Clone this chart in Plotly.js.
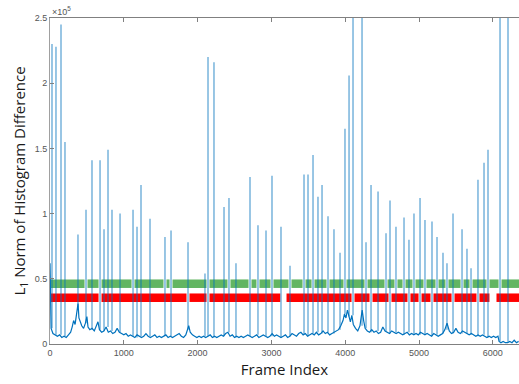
<!DOCTYPE html>
<html>
<head>
<meta charset="utf-8">
<script src="https://cdn.plot.ly/plotly-3.0.1.min.js"></script>
<style>
  html, body { margin: 0; padding: 0; background: #ffffff; }
  #chart { width: 519px; height: 384px; }
</style>
</head>
<body>
<div id="chart"></div>
<script>
// Background level of the L1 histogram difference between consecutive frames
const baseFrames = [0,15,40,70,100,130,160,190,220,250,280,300,320,340,355,370,380,392,410,430,455,480,500,515,540,570,600,630,650,670,700,730,760,790,820,850,880,910,940,970,1000,1030,1060,1090,1120,1150,1180,1210,1240,1270,1300,1330,1360,1390,1420,1450,1480,1510,1540,1570,1600,1630,1660,1690,1720,1750,1780,1810,1840,1860,1880,1900,1930,1960,1990,2020,2050,2080,2110,2140,2170,2200,2230,2260,2290,2320,2350,2380,2410,2440,2470,2500,2530,2560,2590,2620,2650,2680,2710,2740,2770,2800,2830,2860,2890,2920,2950,2980,3010,3040,3070,3100,3130,3160,3190,3220,3250,3280,3310,3340,3370,3400,3430,3460,3490,3520,3550,3580,3610,3640,3670,3700,3730,3760,3790,3820,3850,3880,3910,3940,3970,3990,4010,4030,4050,4070,4090,4110,4140,4170,4200,4230,4250,4270,4300,4330,4360,4390,4420,4450,4480,4510,4540,4570,4600,4630,4660,4690,4720,4750,4780,4810,4840,4870,4900,4930,4960,4990,5020,5050,5080,5110,5140,5170,5200,5230,5260,5290,5320,5350,5380,5410,5440,5470,5500,5530,5560,5590,5620,5650,5680,5710,5740,5770,5800,5830,5860,5890,5920,5950,5980,6010,6040,6070,6085,6110,6140,6170,6200,6230,6260,6290,6320,6350];
const baseValues = [62000,12000,8000,7000,6000,7000,5000,6000,5000,7000,9000,13000,18000,15000,22000,28000,31000,20000,17000,14000,12000,16000,21000,13000,11000,12000,10000,14000,17000,11000,9000,10000,13000,9000,10000,8000,9000,12000,9000,8000,7000,8000,6000,7000,6000,5000,7000,6000,5000,6000,8000,6000,5000,6000,7000,5000,6000,5000,6000,7000,5000,6000,5000,6000,7000,8000,6000,5000,7000,11000,14000,9000,7000,6000,5000,6000,5000,6000,5000,6000,7000,5000,6000,5000,6000,7000,6000,8000,9000,6000,7000,5000,6000,5000,6000,5000,6000,7000,6000,5000,6000,7000,5000,6000,7000,6000,5000,6000,8000,6000,7000,6000,5000,6000,7000,5000,6000,8000,7000,6000,8000,9000,7000,8000,6000,7000,8000,7000,9000,7000,8000,10000,8000,9000,7000,8000,9000,10000,11000,14000,18000,23000,20000,26000,21000,17000,22000,15000,12000,10000,14000,26000,18000,12000,10000,9000,11000,9000,10000,8000,9000,13000,10000,9000,8000,10000,9000,8000,9000,8000,7000,8000,9000,7000,8000,7000,8000,7000,9000,8000,7000,8000,7000,6000,8000,7000,6000,7000,8000,11000,16000,10000,8000,9000,12000,9000,8000,10000,9000,8000,7000,8000,7000,6000,7000,6000,7000,6000,5000,6000,5000,6000,5000,6000,2000,1000,2000,1000,1000,2000,1000,3000,1000,2000];

// Frames with a sharp change (shot transitions) and their peak values
const spikeFrames = [27,81,149,203,379,488,569,678,732,786,840,949,1125,1179,1233,1355,1558,1640,1870,2100,2141,2222,2358,2425,2520,2710,2818,2927,3008,3130,3252,3442,3496,3564,3631,3686,3767,3848,3930,3997,4052,4106,4228,4282,4350,4445,4553,4607,4688,4797,4864,4932,5014,5081,5176,5244,5325,5379,5461,5583,5650,5705,5799,5881,5935,6098,6206];
const spikePeaks  = [230000,228000,245000,155000,84000,103000,141000,141000,88000,149000,103000,100000,103000,90000,122000,96000,82000,87000,78000,54000,220000,216000,105000,112000,62000,128000,91000,87000,129000,90000,60000,130000,130000,145000,113000,122000,98000,88000,70000,165000,206000,320000,320000,78000,122000,117000,85000,110000,90000,97000,80000,100000,112000,95000,94000,82000,70000,62000,100000,88000,73000,58000,126000,139000,149000,320000,320000];

// Frame intervals covered by the two marker bands (gaps mark boundaries)
const greenStarts = [0,508,698,1145,1578,1660,2161,2445,2730,2838,3028,3272,3462,3584,3787,4017,4302,4573,4708,4817,4952,5101,5264,5399,5603,5725,5955,6118];
const greenEnds   = [468,658,1105,1538,1620,2121,2405,2690,2798,2988,3232,3422,3544,3747,3977,4262,4533,4668,4777,4912,5061,5224,5359,5563,5685,5915,6078,6360];
const redStarts = [0,698,1890,2161,3205,4126,4370,4627,4884,5034,5196,5481,5819,6050];
const redEnds   = [658,1850,2121,3120,4086,4330,4587,4844,4994,5156,5441,5779,5955,6360];
const greenLevel = 46250;
const redLevel = 35500;

const yTickVals = [0, 50000, 100000, 150000, 200000, 250000];
const yTickText = ['0', '0.5', '1', '1.5', '2', '2.5'];

function baseAt(f) {
  let v = baseValues[0];
  for (let i = 0; i < baseFrames.length; i++) {
    if (baseFrames[i] <= f) v = baseValues[i]; else break;
  }
  return v;
}

function segments(starts, ends, level) {
  const xs = [], ys = [];
  for (let i = 0; i < starts.length; i++) {
    xs.push(starts[i], ends[i], null);
    ys.push(level, level, null);
  }
  return { xs, ys };
}

const g = segments(greenStarts, greenEnds, greenLevel);
const r = segments(redStarts, redEnds, redLevel);

const spikeX = [], spikeY = [];
spikeFrames.forEach((f, i) => {
  spikeX.push(f, f, null);
  spikeY.push(baseAt(f), spikePeaks[i], null);
});

const traces = [
  { x: g.xs, y: g.ys, mode: 'lines', line: { color: '#62b562', width: 8.5 }, hoverinfo: 'skip', connectgaps: false },
  { x: r.xs, y: r.ys, mode: 'lines', line: { color: '#ff0000', width: 8.5 }, hoverinfo: 'skip', connectgaps: false },
  { x: baseFrames, y: baseValues, mode: 'lines', line: { color: '#0072bd', width: 1.2 } },
  { x: spikeX, y: spikeY, mode: 'lines', line: { color: 'rgba(0,114,189,0.5)', width: 1.6 }, connectgaps: false }
];

const tickFont = { family: 'Liberation Sans, Arial, sans-serif', size: 9, color: '#555555' };
const titleFont = { family: 'Open Sans, Noto Sans, sans-serif', size: 15, color: '#1a1a1a' };

const layout = {
  width: 519,
  height: 384,
  margin: { l: 50, r: 0, t: 18, b: 40 },
  paper_bgcolor: '#ffffff',
  plot_bgcolor: '#ffffff',
  showlegend: false,
  xaxis: {
    range: [0, 6355],
    tick0: 0,
    dtick: 1000,
    ticks: 'inside',
    ticklen: 4,
    tickcolor: '#808080',
    showline: true,
    linecolor: '#808080',
    linewidth: 1,
    mirror: 'ticks',
    showgrid: false,
    zeroline: false,
    tickfont: tickFont,
    title: { text: 'Frame Index', font: titleFont, standoff: 7 }
  },
  yaxis: {
    range: [0, 250000],
    tickvals: yTickVals,
    ticktext: yTickText,
    ticks: 'inside',
    ticklen: 4,
    tickcolor: '#808080',
    showline: true,
    linecolor: '#a0a0a0',
    linewidth: 1,
    showgrid: false,
    zeroline: false,
    tickfont: tickFont,
    title: { text: 'L<sub>1</sub> Norm of Histogram Difference', font: titleFont, standoff: 5 }
  },
  annotations: [{
    xref: 'paper', yref: 'paper', x: 0, y: 1,
    xanchor: 'left', yanchor: 'bottom', yshift: -1,
    text: '\u00d710<sup>5</sup>', showarrow: false,
    font: { family: 'Liberation Sans, Arial, sans-serif', size: 9, color: '#555555' }
  }]
};

Plotly.newPlot('chart', traces, layout, { staticPlot: true, displayModeBar: false });
</script>
</body>
</html>
